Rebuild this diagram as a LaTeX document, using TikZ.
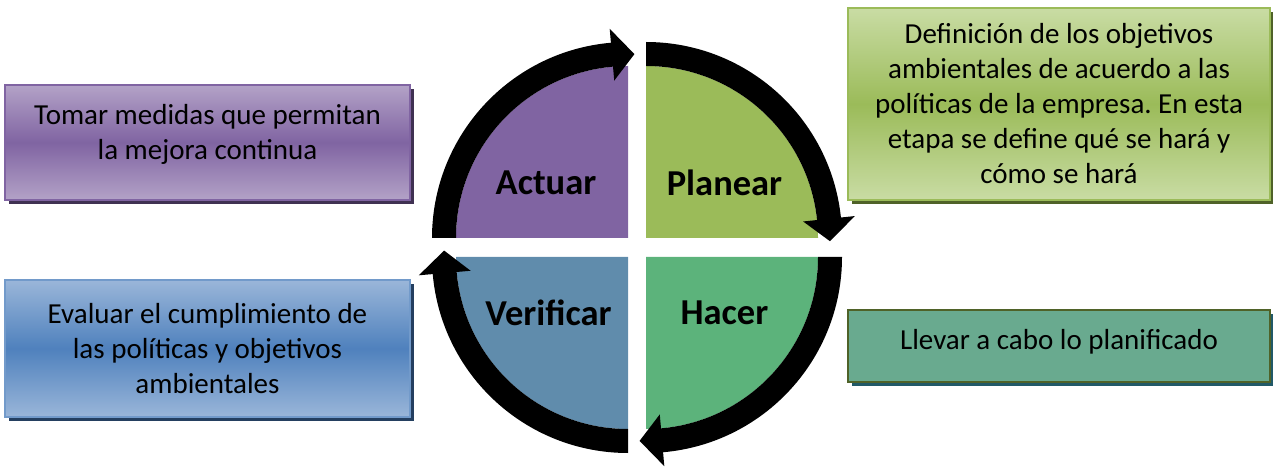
\documentclass[tikz,border=0pt]{standalone}
\usepackage{fontspec}
\setmainfont{Carlito}
\usetikzlibrary{shadows}
\definecolor{purA}{HTML}{8064A2}
\definecolor{purL}{HTML}{B3A2C7}
\definecolor{purS}{HTML}{403152}
\definecolor{greP}{HTML}{9BBB59}
\definecolor{greL}{HTML}{C9DCA4}
\definecolor{greS}{HTML}{4F6228}
\definecolor{greH}{HTML}{5CB37B}
\definecolor{bluV}{HTML}{608CAC}
\definecolor{bluM}{HTML}{4F81BD}
\definecolor{bluL}{HTML}{9AB6D9}
\definecolor{bluS}{HTML}{243F60}
\definecolor{tealF}{HTML}{69AA8F}
\definecolor{tealB}{HTML}{4F6228}
\definecolor{tealS}{HTML}{215968}
\frenchspacing
\begin{document}
\begin{tikzpicture}[x=1pt,y=1pt,
  box/.style={rectangle, line width=1.5pt, align=center, inner sep=0pt,
    font=\fontsize{29}{35}\selectfont\frenchspacing, minimum width=405pt},
  quadlabel/.style={font=\fontsize{36.5}{42}\selectfont\bfseries, inner sep=0pt},
  arrowfill/.style={fill=black}]
\useasboundingbox (0,0) rectangle (1273,466);
% quadrants
\fill[purA] (628,228) -- ++(-172,0) arc[start angle=180,end angle=90,radius=172pt] -- cycle;
\fill[greP] (646,228) -- ++(0,172) arc[start angle=90,end angle=0,radius=172pt] -- cycle;
\fill[greH] (646,209) -- ++(172,0) arc[start angle=0,end angle=-90,radius=172pt] -- cycle;
\fill[bluV] (628,209) -- ++(0,-172) arc[start angle=270,end angle=180,radius=172pt] -- cycle;
% arrows
\fill[arrowfill,shift={(628,228)}] (180:196) arc[start angle=180,end angle=95,radius=196pt]
  -- (95:210) -- (88:184) -- (95:158) -- (95:172) arc[start angle=95,end angle=180,radius=172pt] -- cycle;
\fill[arrowfill,shift={(646,228)}] (90:196) arc[start angle=90,end angle=6,radius=196pt]
  -- (6:210) -- (-1:184) -- (6:158) -- (6:172) arc[start angle=6,end angle=90,radius=172pt] -- cycle;
\fill[arrowfill,shift={(646,209)}] (0:196) arc[start angle=0,end angle=-85,radius=196pt]
  -- (-85:210) -- (-92:184) -- (-85:158) -- (-85:172) arc[start angle=-85,end angle=0,radius=172pt] -- cycle;
\fill[arrowfill,shift={(628,209)}] (270:196) arc[start angle=270,end angle=185,radius=196pt]
  -- (185:210) -- (178:184) -- (185:158) -- (185:172) arc[start angle=185,end angle=270,radius=172pt] -- cycle;
% quadrant labels
\node[quadlabel] (actuar) at (546,283.5) {Actuar};
\node[quadlabel] (planear) at (724.5,283.5) {Planear};
\node[quadlabel] (verificar) at (548.5,153.5) {Verificar};
\node[quadlabel] (hacer) at (724.5,153.5) {Hacer};
% boxes
\node[box, draw=purA, top color=purL, bottom color=purL, middle color=purA,
  minimum height=115pt, text depth=22pt,
  drop shadow={shadow xshift=4pt,shadow yshift=-4pt,fill=purS,opacity=1}]
  (tomar) at (207.5,323.5) {Tomar medidas que permitan\\la mejora continua};
\node[box, draw=bluM!80, top color=bluL, bottom color=bluL, middle color=bluM,
  minimum height=137pt,
  drop shadow={shadow xshift=4pt,shadow yshift=-4pt,fill=bluS,opacity=1}]
  (evaluar) at (207.5,117.5) {Evaluar el cumplimiento de\\las políticas y objetivos\\ambientales};
\node[box, draw=greP, top color=greL, bottom color=greL, middle color=greP,
  minimum width=422pt, minimum height=192pt,
  drop shadow={shadow xshift=4pt,shadow yshift=-4pt,fill=greS,opacity=1}]
  (definicion) at (1059,362) {Definición de los objetivos\\ambientales de acuerdo a las\\políticas de la empresa. En esta\\etapa se define qué se hará y\\cómo se hará};
\node[box, draw=tealB, fill=tealF,
  minimum width=422pt, minimum height=72pt, text depth=14pt,
  drop shadow={shadow xshift=4pt,shadow yshift=-4pt,fill=tealS,opacity=1}]
  (llevar) at (1059,120) {Llevar a cabo lo planificado};
\end{tikzpicture}
\end{document}
